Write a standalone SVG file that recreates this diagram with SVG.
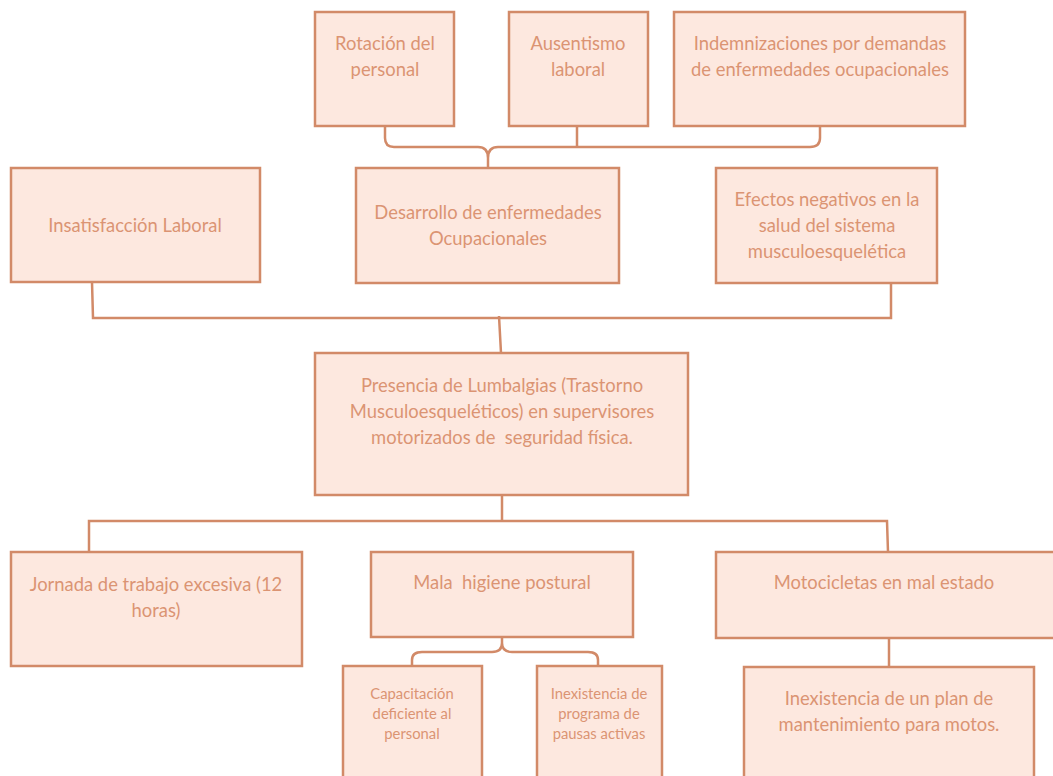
<svg xmlns="http://www.w3.org/2000/svg" width="1053" height="776" viewBox="0 0 1053 776">
<style>
.b{fill:#fde8df;stroke:#d28a68;stroke-width:2.5}
.c{fill:none;stroke:#d28a68;stroke-width:2.5}
text{font-family:Lato,"Open Sans",sans-serif;font-size:18.4px;fill:#db9473;text-anchor:middle}
.s{font-size:14.8px}
</style>
<rect width="1053" height="776" fill="#fff"/>
<g id="connectors">
<path class="c" d="M385 126V138Q385 147 394 147H478Q488 147 488 158V168M488 158Q488 147 498 147H810Q820 147 820 138V126M577 126V147"/>
<path class="c" d="M92 282L93 318H891V283M499 316L501 353"/>
<path class="c" d="M502 495V522M89 552V521H887L888 552"/>
<path class="c" d="M502 637V643Q502 652 492 652H422Q412 652 412 660V666M502 643Q502 652 512 652H588Q598 652 598 660V666"/>
<path class="c" d="M889 638V667"/>
</g>
<g id="n1"><rect class="b" x="315" y="12" width="139" height="114"/><text x="385" y="50">Rotación del</text><text x="385" y="76">personal</text></g>
<g id="n2"><rect class="b" x="509" y="12" width="139" height="114"/><text x="578" y="50">Ausentismo</text><text x="578" y="76">laboral</text></g>
<g id="n3"><rect class="b" x="674" y="12" width="291" height="114"/><text x="820" y="50">Indemnizaciones por demandas</text><text x="820" y="76">de enfermedades ocupacionales</text></g>
<g id="n4"><rect class="b" x="11" y="168" width="249" height="114"/><text x="135" y="232">Insatisfacción Laboral</text></g>
<g id="n5"><rect class="b" x="356" y="168" width="263" height="115"/><text x="488" y="219">Desarrollo de enfermedades</text><text x="488" y="245">Ocupacionales</text></g>
<g id="n6"><rect class="b" x="716" y="168" width="221" height="115"/><text x="827" y="206">Efectos negativos en la</text><text x="827" y="232">salud del sistema</text><text x="827" y="258">musculoesquelética</text></g>
<g id="n7"><rect class="b" x="315" y="353" width="373" height="142"/><text x="502" y="392">Presencia de Lumbalgias (Trastorno</text><text x="502" y="418">Musculoesqueléticos) en supervisores</text><text x="502" y="444" xml:space="preserve">motorizados de  seguridad física.</text></g>
<g id="n8"><rect class="b" x="11" y="552" width="291" height="114"/><text x="156" y="591">Jornada de trabajo excesiva (12</text><text x="156" y="617">horas)</text></g>
<g id="n9"><rect class="b" x="371" y="552" width="262" height="85"/><text x="502" y="589" xml:space="preserve">Mala  higiene postural</text></g>
<g id="n10"><rect class="b" x="716" y="552" width="345" height="86"/><text x="884" y="589">Motocicletas en mal estado</text></g>
<g id="n11"><rect class="b" x="343" y="666" width="139" height="120"/><text class="s" x="412" y="699">Capacitación</text><text class="s" x="412" y="719">deficiente al</text><text class="s" x="412" y="739">personal</text></g>
<g id="n12"><rect class="b" x="537" y="666" width="125" height="120"/><text class="s" x="599" y="699">Inexistencia de</text><text class="s" x="599" y="719">programa de</text><text class="s" x="599" y="739">pausas activas</text></g>
<g id="n13"><rect class="b" x="744" y="667" width="290" height="119"/><text x="889" y="705">Inexistencia de un plan de</text><text x="889" y="731">mantenimiento para motos.</text></g>
</svg>
